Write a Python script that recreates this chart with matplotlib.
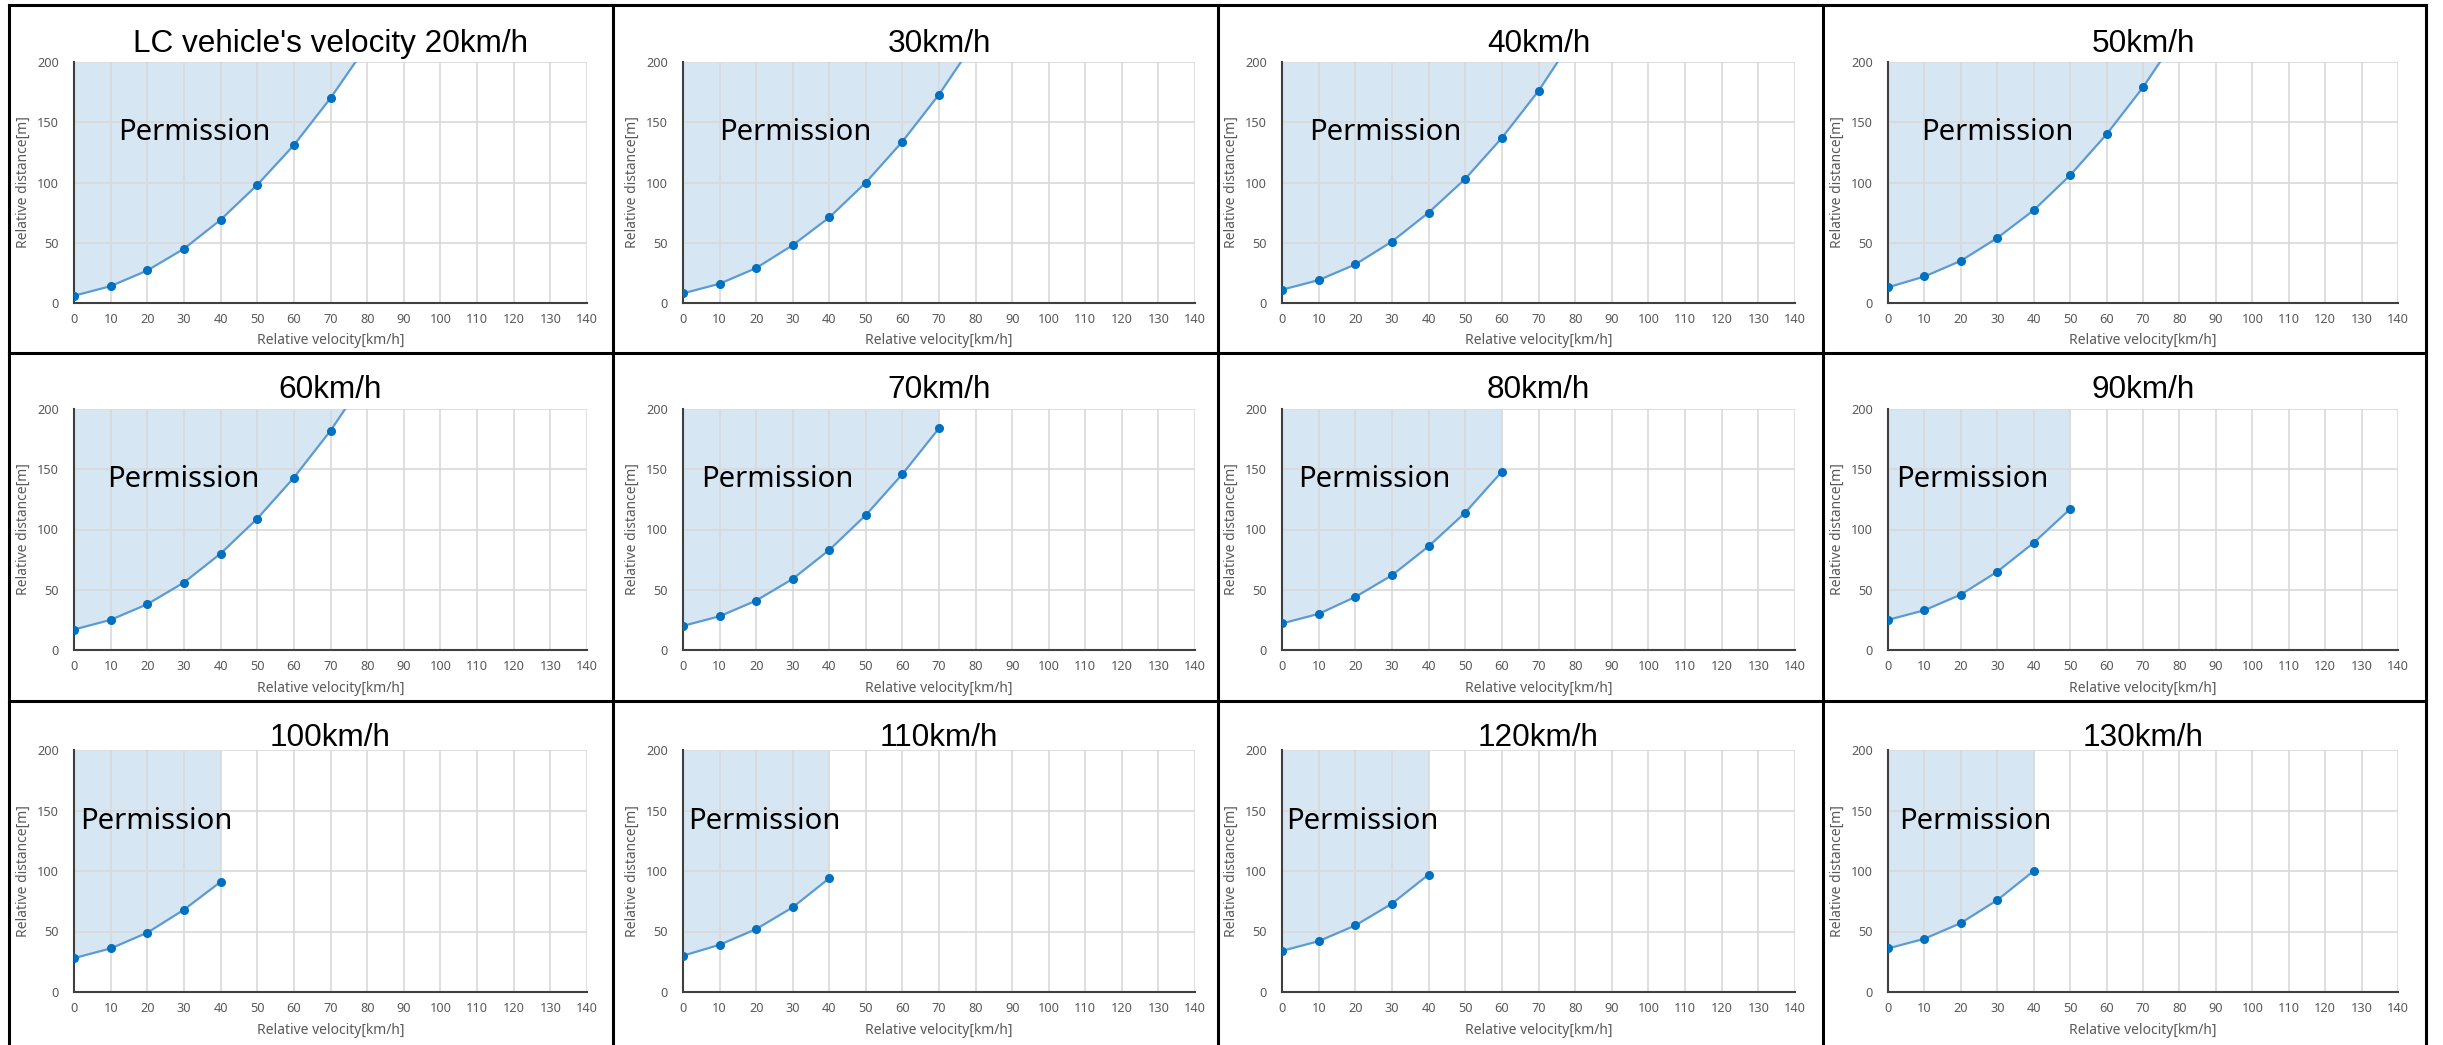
import matplotlib.pyplot as plt
from matplotlib.lines import Line2D

W, H = 2443, 1045

lc_speeds = [20, 30, 40, 50, 60, 70, 80, 90, 100, 110, 120, 130]
rel_velocity = [0, 10, 20, 30, 40, 50, 60, 70, 80]
# minimum relative distance [m] for each LC vehicle speed; values above 200 run off the chart
distance = [
    [6, 14, 27, 45, 69, 98, 131, 170, 214],
    [8, 16, 29, 48, 71, 100, 134, 173, 218],
    [11, 19, 32, 51, 75, 103, 137, 176, 222],
    [13, 22, 35, 54, 77, 106, 140, 179, 224],
    [17, 25, 38, 56, 80, 109, 143, 182, 227],
    [20, 28, 41, 59, 83, 112, 146, 184],
    [22, 30, 44, 62, 86, 114, 148],
    [25, 33, 46, 65, 89, 117],
    [28, 36, 49, 68, 91],
    [30, 39, 52, 70, 94],
    [34, 42, 55, 73, 97],
    [36, 44, 57, 76, 100],
]
x_ticks = list(range(0, 141, 10))
y_ticks = [0, 50, 100, 150, 200]

# layout in pixels
col_left = [74, 683, 1282, 1888]
col_right = [587, 1195, 1795, 2398]
row_top = [62, 409, 750]
row_bottom = [303, 650, 992]
title_gap = [10, 11, 4]
label_x = [12, 10, 7.4, 9, 9, 5, 4.4, 2.2, 1.6, 1.4, 1, 3]

fill_color = '#d7e6f3'
line_color = '#5b9bd5'
marker_color = '#0070c0'
text_gray = '#595959'

fig = plt.figure(figsize=(W / 100, H / 100), dpi=100)

for i, speed in enumerate(lc_speeds):
    r, c = divmod(i, 4)
    l, rr = col_left[c], col_right[c]
    t, b = row_top[r], row_bottom[r]
    ax = fig.add_axes([l / W, 1 - b / H, (rr - l) / W, (b - t) / H])
    ys = distance[i]
    xs = rel_velocity[:len(ys)]

    ax.fill_between(xs, ys, 200, color=fill_color, lw=0, zorder=0.5)
    ax.plot(xs, ys, color=line_color, lw=1.6, marker='o', ms=5.5,
            mfc=marker_color, mec=marker_color, zorder=3)

    ax.set_xlim(0, 140)
    ax.set_ylim(0, 200)
    ax.set_xticks(x_ticks)
    ax.set_yticks(y_ticks)
    ax.grid(True, color='#d9d9d9', lw=1.2)
    ax.tick_params(length=0, labelsize=9.2, labelcolor=text_gray)
    ax.tick_params(axis='x', pad=7)
    ax.tick_params(axis='y', pad=11)
    for lab in ax.get_xticklabels() + ax.get_yticklabels():
        lab.set_family('Noto Sans')
    for s in ['top', 'right']:
        ax.spines[s].set_visible(False)
    for s in ['left', 'bottom']:
        ax.spines[s].set_color('#404040')
        ax.spines[s].set_linewidth(1.5)

    h = b - t
    w = rr - l
    ax.text(0.5, -38 / h, 'Relative velocity[km/h]', transform=ax.transAxes,
            ha='center', va='center', fontsize=10, color=text_gray, family='Noto Sans')
    ax.text(-51 / w, 0.5, 'Relative distance[m]', transform=ax.transAxes, rotation=90,
            ha='center', va='center', fontsize=10, color=text_gray, family='Noto Sans')

    title = "LC vehicle's velocity 20km/h" if i == 0 else f'{speed}km/h'
    ax.text(0.5, 1 + title_gap[r] / h, title, transform=ax.transAxes,
            ha='center', va='baseline', fontsize=22.7, family='Liberation Sans',
            clip_on=False, zorder=5)
    ax.text(label_x[i], 135, 'Permission', ha='left', va='baseline',
            fontsize=21, family='Noto Sans', zorder=5)

# panel frame lines
frame = dict(color='black', lw=2.2, transform=fig.transFigure)
for x in [9, 613, 1218, 1823, 2426]:
    fig.add_artist(Line2D([x / W, x / W], [1 - 5 / H, 0], **frame))
for y in [5, 353, 701]:
    fig.add_artist(Line2D([9 / W, 2426 / W], [1 - y / H, 1 - y / H], **frame))

fig.savefig('out.png', dpi=100, facecolor='white')
